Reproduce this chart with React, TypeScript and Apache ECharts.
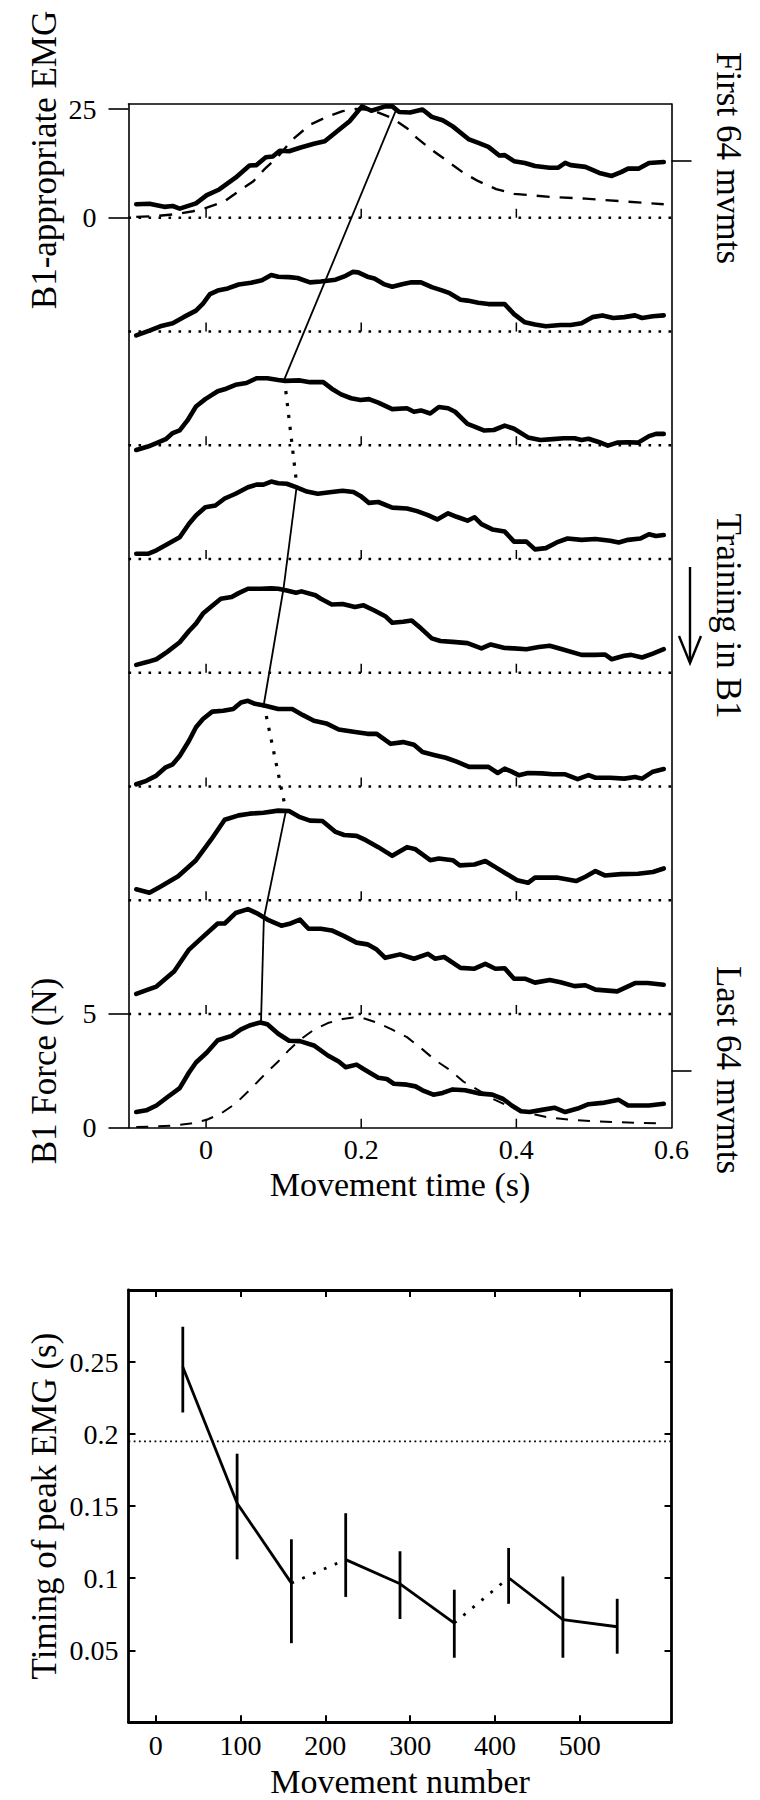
import React, { useEffect, useRef } from "react";
import * as echarts from "echarts";

const FONT = "'Liberation Serif', 'Times New Roman', Times, serif";

// ---------- Top panel data (time in s, EMG in arbitrary units, force in N) ----------
const timeTickLabels = [0, 0.2, 0.4, 0.6];
const baselineTickTimes = [0, 0.2, 0.4];
const traceBaselines = [8, 7, 6, 5, 4, 3, 2, 1, 0]; // slot index of each block (top to bottom)

const emgBlock1 = [[-0.090,3.1],[-0.073,3.2],[-0.054,2.5],[-0.043,2.7],[-0.034,2.1],[-0.013,3.3],[0.001,5.2],[0.017,6.5],[0.038,9.2],[0.056,12.0],[0.065,12.1],[0.077,13.9],[0.086,14.1],[0.095,15.4],[0.107,15.3],[0.121,16.1],[0.139,17.0],[0.153,17.6],[0.167,19.6],[0.185,22.2],[0.201,25.6],[0.213,24.6],[0.231,25.6],[0.240,25.6],[0.249,24.3],[0.263,24.2],[0.279,24.9],[0.291,23.2],[0.305,22.4],[0.318,21.0],[0.339,18.0],[0.351,17.2],[0.364,16.3],[0.378,14.3],[0.385,14.4],[0.397,13.0],[0.411,12.6],[0.424,11.9],[0.443,11.5],[0.454,11.5],[0.463,12.6],[0.470,12.1],[0.489,11.7],[0.507,10.3],[0.523,9.6],[0.535,10.5],[0.544,11.3],[0.558,11.3],[0.571,12.6],[0.590,12.8]];
const emgBlock2 = [[-0.090,-0.9],[-0.073,0.2],[-0.059,1.2],[-0.043,1.9],[-0.029,3.3],[-0.013,4.8],[-0.004,6.4],[0.005,8.6],[0.015,9.4],[0.028,9.9],[0.042,10.8],[0.058,11.2],[0.072,11.8],[0.084,13.0],[0.093,12.6],[0.107,12.5],[0.118,12.3],[0.134,11.3],[0.148,11.5],[0.167,11.9],[0.180,12.8],[0.189,13.7],[0.196,13.6],[0.208,12.6],[0.217,12.2],[0.229,10.9],[0.240,10.3],[0.254,10.9],[0.265,11.3],[0.277,11.3],[0.291,10.2],[0.305,9.4],[0.314,8.8],[0.328,7.3],[0.337,7.1],[0.351,6.6],[0.364,6.3],[0.385,6.3],[0.397,4.0],[0.411,2.1],[0.424,1.6],[0.438,1.2],[0.457,1.5],[0.470,1.5],[0.484,1.9],[0.498,3.3],[0.511,3.7],[0.525,3.1],[0.539,3.3],[0.553,3.7],[0.562,3.1],[0.576,3.5],[0.590,3.7]];
const emgBlock3 = [[-0.090,-1.1],[-0.075,-0.3],[-0.064,0.5],[-0.052,1.4],[-0.043,2.8],[-0.034,3.4],[-0.024,5.7],[-0.013,8.9],[-0.001,10.6],[0.015,12.4],[0.026,13.0],[0.038,13.9],[0.052,14.3],[0.065,15.4],[0.079,15.4],[0.093,15.0],[0.102,14.8],[0.121,14.9],[0.134,14.5],[0.151,14.5],[0.162,13.0],[0.174,11.7],[0.187,10.8],[0.199,10.4],[0.210,10.6],[0.222,9.8],[0.240,8.3],[0.259,8.5],[0.268,7.7],[0.277,8.0],[0.289,7.3],[0.300,8.8],[0.312,8.5],[0.321,7.7],[0.337,4.9],[0.346,4.3],[0.358,3.4],[0.371,3.5],[0.385,4.5],[0.397,3.8],[0.415,1.8],[0.431,1.2],[0.447,1.4],[0.461,1.6],[0.475,1.6],[0.484,1.2],[0.493,1.5],[0.507,0.7],[0.518,-0.1],[0.530,0.6],[0.544,0.7],[0.557,0.6],[0.571,2.1],[0.580,2.6],[0.590,2.6]];
const emgBlock4 = [[-0.090,1.2],[-0.075,1.2],[-0.064,2.0],[-0.050,3.4],[-0.034,5.0],[-0.022,8.1],[-0.013,10.0],[-0.001,11.9],[0.012,12.3],[0.024,13.9],[0.038,15.0],[0.054,16.5],[0.065,17.1],[0.074,17.1],[0.084,17.8],[0.093,17.4],[0.104,17.3],[0.116,16.5],[0.130,15.5],[0.144,15.0],[0.162,15.4],[0.176,15.7],[0.190,15.4],[0.199,14.5],[0.210,12.9],[0.222,13.1],[0.240,11.8],[0.259,11.6],[0.272,11.0],[0.286,10.1],[0.298,9.1],[0.312,10.5],[0.323,9.7],[0.337,8.8],[0.346,9.6],[0.355,8.0],[0.369,6.8],[0.385,6.3],[0.397,4.0],[0.413,4.0],[0.424,2.2],[0.438,2.5],[0.452,3.8],[0.466,4.7],[0.484,4.4],[0.502,4.6],[0.521,4.2],[0.532,3.8],[0.544,4.4],[0.560,4.7],[0.571,5.7],[0.580,5.3],[0.590,5.5]];
const emgBlock5 = [[-0.090,1.8],[-0.075,2.5],[-0.064,3.1],[-0.050,4.8],[-0.034,7.0],[-0.022,9.6],[-0.013,11.3],[-0.004,13.6],[0.008,15.4],[0.019,17.0],[0.033,17.4],[0.042,18.3],[0.054,19.3],[0.070,19.3],[0.084,19.4],[0.093,19.3],[0.104,18.9],[0.116,18.4],[0.123,18.7],[0.141,17.8],[0.148,17.0],[0.162,15.7],[0.176,15.8],[0.192,15.1],[0.203,15.5],[0.217,14.3],[0.231,13.0],[0.240,11.5],[0.254,11.7],[0.265,12.0],[0.277,10.2],[0.291,7.9],[0.302,7.3],[0.318,7.1],[0.337,6.8],[0.355,5.6],[0.367,6.5],[0.385,5.7],[0.397,5.6],[0.413,5.4],[0.429,5.9],[0.443,6.2],[0.459,5.4],[0.484,4.1],[0.502,4.1],[0.514,4.2],[0.523,3.1],[0.539,3.9],[0.548,4.1],[0.562,3.5],[0.576,4.4],[0.590,5.4]];
const emgBlock6 = [[-0.090,0.5],[-0.077,1.3],[-0.064,2.5],[-0.052,4.4],[-0.043,5.1],[-0.034,7.0],[-0.022,10.5],[-0.013,13.6],[-0.004,15.5],[0.008,17.2],[0.022,17.4],[0.035,17.8],[0.045,19.3],[0.054,19.7],[0.063,19.0],[0.075,18.6],[0.093,17.8],[0.111,17.8],[0.125,16.4],[0.139,15.1],[0.155,14.5],[0.171,13.1],[0.190,12.6],[0.208,12.1],[0.220,12.1],[0.238,9.8],[0.254,10.2],[0.268,9.6],[0.279,7.9],[0.295,7.2],[0.309,6.6],[0.323,5.7],[0.339,4.5],[0.364,4.5],[0.376,3.1],[0.385,4.1],[0.394,3.4],[0.403,2.6],[0.415,3.1],[0.433,3.0],[0.447,2.8],[0.463,2.8],[0.479,1.7],[0.493,2.6],[0.502,2.0],[0.521,2.0],[0.539,1.8],[0.553,2.2],[0.562,1.8],[0.576,3.4],[0.590,4.0]];
const emgBlock7 = [[-0.090,2.5],[-0.073,1.7],[-0.059,3.1],[-0.036,5.5],[-0.013,9.2],[0.006,13.8],[0.024,18.5],[0.042,19.5],[0.056,19.9],[0.074,20.1],[0.093,20.6],[0.107,20.5],[0.121,19.1],[0.134,18.3],[0.150,18.2],[0.167,15.7],[0.178,15.0],[0.194,14.8],[0.206,13.8],[0.222,12.2],[0.240,10.2],[0.259,12.2],[0.270,11.7],[0.289,9.2],[0.300,9.6],[0.318,9.2],[0.327,8.0],[0.346,8.2],[0.360,9.0],[0.373,7.6],[0.387,6.1],[0.401,4.6],[0.415,4.0],[0.424,5.2],[0.452,5.2],[0.477,4.4],[0.489,5.4],[0.502,6.7],[0.514,5.7],[0.535,6.0],[0.557,6.1],[0.576,6.5],[0.590,7.3]];
const emgBlock8 = [[-0.090,4.6],[-0.075,5.6],[-0.064,6.3],[-0.041,9.8],[-0.022,14.8],[-0.008,17.1],[0.015,20.8],[0.024,20.8],[0.038,23.2],[0.054,24.1],[0.065,23.2],[0.079,21.7],[0.097,20.3],[0.109,20.8],[0.121,21.7],[0.132,19.6],[0.148,19.6],[0.162,19.2],[0.178,17.9],[0.194,16.4],[0.208,16.0],[0.220,14.8],[0.231,12.9],[0.250,13.7],[0.268,12.7],[0.286,13.8],[0.295,12.7],[0.307,13.1],[0.328,10.6],[0.346,10.4],[0.360,11.5],[0.373,10.4],[0.385,10.5],[0.397,8.1],[0.411,8.1],[0.424,7.2],[0.443,7.8],[0.457,7.3],[0.475,6.4],[0.489,6.6],[0.502,5.6],[0.530,5.2],[0.553,7.1],[0.569,7.1],[0.590,6.7]];
const emgBlock9 = [[-0.090,3.6],[-0.077,4.0],[-0.064,5.1],[-0.050,7.0],[-0.034,9.1],[-0.022,12.7],[-0.013,15.0],[0.001,17.3],[0.015,20.1],[0.033,21.1],[0.045,22.6],[0.056,23.5],[0.070,24.2],[0.079,23.8],[0.093,21.6],[0.107,20.0],[0.121,19.9],[0.139,18.9],[0.157,16.6],[0.171,15.2],[0.180,13.9],[0.194,14.5],[0.203,13.5],[0.222,11.5],[0.233,11.2],[0.242,10.1],[0.259,9.9],[0.270,9.5],[0.279,8.6],[0.293,7.6],[0.305,8.0],[0.318,8.8],[0.334,8.6],[0.351,7.9],[0.369,7.6],[0.383,6.6],[0.394,5.1],[0.406,3.8],[0.417,3.6],[0.433,4.1],[0.449,4.6],[0.463,3.6],[0.479,4.4],[0.493,5.4],[0.511,5.7],[0.532,6.4],[0.544,5.1],[0.571,5.1],[0.590,5.5]];
const emgBlocks = [emgBlock1, emgBlock2, emgBlock3, emgBlock4, emgBlock5, emgBlock6, emgBlock7, emgBlock8, emgBlock9];

// dashed template (first block, EMG units) and dashed B1 force (last block, N)
const emgTemplateFirst = [[-0.090,0.2],[-0.063,0.4],[-0.040,0.8],[-0.017,1.5],[0.001,2.3],[0.024,3.8],[0.042,6.1],[0.061,8.4],[0.075,11.1],[0.093,14.1],[0.111,17.9],[0.134,21.4],[0.157,23.3],[0.176,24.5],[0.194,25.0],[0.213,24.8],[0.240,22.9],[0.259,20.6],[0.272,18.3],[0.291,15.6],[0.309,13.3],[0.332,10.3],[0.351,8.4],[0.374,6.6],[0.397,5.5],[0.443,4.8],[0.489,4.4],[0.535,3.8],[0.590,3.1]];
const forceLast = [[-0.090,0.03],[-0.063,0.06],[-0.040,0.10],[-0.020,0.18],[0.001,0.35],[0.019,0.62],[0.038,1.06],[0.056,1.65],[0.075,2.32],[0.093,2.91],[0.107,3.42],[0.121,3.86],[0.139,4.31],[0.157,4.60],[0.176,4.78],[0.190,4.84],[0.203,4.81],[0.222,4.60],[0.240,4.31],[0.259,3.98],[0.277,3.50],[0.295,2.98],[0.314,2.54],[0.332,2.02],[0.351,1.65],[0.369,1.28],[0.387,0.99],[0.406,0.74],[0.424,0.58],[0.443,0.44],[0.470,0.35],[0.498,0.29],[0.535,0.24],[0.590,0.18]];

// peak of each block (time, EMG) joined by the thin line
const peakTimes = [0.245, 0.155, 0.101, 0.117, 0.0998, 0.0745, 0.103, 0.0745, 0.0708];
const peakEmg = [24.8, 12.2, 15.2, 16.9, 19.3, 18.9, 20.6, 22.0, 24.2];
const linkStyles = ["solid", "solid", "dotted", "solid", "solid", "dotted", "solid", "solid"];

// left axis labels: EMG 0 / 25 on first block, force 0 / 5 N on last block
const leftLabelText = ["0", "5", "0", "25"];
const rightTickSlots = [8.5, 0.5];

// ---------- Bottom panel data ----------
const movementNumber = [32, 96, 160, 224, 288, 352, 416, 480, 544];
const peakTiming = [0.2465, 0.152, 0.0966, 0.1129, 0.0961, 0.0689, 0.1003, 0.0712, 0.0663];
const timingLow = [0.215, 0.1131, 0.0549, 0.087, 0.0717, 0.0448, 0.0822, 0.0448, 0.0476];
const timingHigh = [0.2745, 0.1864, 0.127, 0.1451, 0.1187, 0.092, 0.121, 0.1012, 0.0857];
const referenceTiming = 0.195;
const movementTicks = [0, 100, 200, 300, 400, 500];
const timingTicks = [0.05, 0.1, 0.15, 0.2, 0.25];

// scale of the stacked plot: EMG units and newtons per stacking slot
const EMG_PER_SLOT = 26.15;
const N_PER_SLOT = 5.0;

function buildOption() {
  const leftLabelPos = [0, 5 / N_PER_SLOT, 8, 8 + 25 / EMG_PER_SLOT];
  const series: any[] = [];

  // dotted baselines
  traceBaselines.forEach((b) => {
    if (b === 0) return;
    series.push({
      type: "line", xAxisIndex: 0, yAxisIndex: 0, showSymbol: false, silent: true, z: 1,
      data: [[-0.1, b], [0.6, b]],
      lineStyle: { color: "#000", width: 2.6, type: [2.6, 7.4] },
    });
  });

  // small tick marks on each baseline
  const tickData: number[][] = [];
  traceBaselines.forEach((b) => baselineTickTimes.forEach((t) => tickData.push([t, b])));
  series.push({
    type: "custom", xAxisIndex: 0, yAxisIndex: 0, silent: true, z: 2,
    data: tickData,
    renderItem: (_p: any, api: any) => {
      const c = api.coord([api.value(0), api.value(1)]);
      return {
        type: "line",
        shape: { x1: c[0], y1: c[1], x2: c[0], y2: c[1] - 9 },
        style: { stroke: "#000", lineWidth: 1.5 },
      };
    },
  });

  // dashed template on first block
  series.push({
    type: "line", xAxisIndex: 0, yAxisIndex: 0, showSymbol: false, silent: true, z: 3,
    data: emgTemplateFirst.map(([t, v]) => [t, traceBaselines[0] + v / EMG_PER_SLOT]),
    lineStyle: { color: "#000", width: 2.4, type: [13, 10] },
  });
  // dashed force on last block
  series.push({
    type: "line", xAxisIndex: 0, yAxisIndex: 0, showSymbol: false, silent: true, z: 3,
    data: forceLast.map(([t, v]) => [t, traceBaselines[8] + v / N_PER_SLOT]),
    lineStyle: { color: "#000", width: 2, type: [12, 10] },
  });

  // EMG traces
  emgBlocks.forEach((blk, k) => {
    series.push({
      type: "line", xAxisIndex: 0, yAxisIndex: 0, showSymbol: false, silent: true, z: 4,
      data: blk.map(([t, v]) => [t, traceBaselines[k] + v / EMG_PER_SLOT]),
      lineStyle: { color: "#000", width: 4.6, join: "round", cap: "round" },
    });
  });

  // peak-connecting line
  for (let i = 0; i < peakTimes.length - 1; i++) {
    const dotted = linkStyles[i] === "dotted";
    series.push({
      type: "line", xAxisIndex: 0, yAxisIndex: 0, showSymbol: false, silent: true, z: 5,
      data: [
        [peakTimes[i], traceBaselines[i] + peakEmg[i] / EMG_PER_SLOT],
        [peakTimes[i + 1], traceBaselines[i + 1] + peakEmg[i + 1] / EMG_PER_SLOT],
      ],
      lineStyle: dotted
        ? { color: "#000", width: 3.2, type: [3.2, 8.8] }
        : { color: "#000", width: 1.8 },
    });
  }

  // ---------- bottom panel ----------
  series.push({
    type: "line", xAxisIndex: 2, yAxisIndex: 2, showSymbol: false, silent: true, z: 1,
    data: [[-32, referenceTiming], [608, referenceTiming]],
    lineStyle: { color: "#000", width: 1.8, type: [1.8, 3.4] },
  });
  series.push({
    type: "custom", xAxisIndex: 2, yAxisIndex: 2, silent: true, z: 3,
    data: movementNumber.map((m, i) => [m, timingLow[i], timingHigh[i]]),
    renderItem: (_p: any, api: any) => {
      const a = api.coord([api.value(0), api.value(1)]);
      const b = api.coord([api.value(0), api.value(2)]);
      return {
        type: "line",
        shape: { x1: a[0], y1: a[1], x2: b[0], y2: b[1] },
        style: { stroke: "#000", lineWidth: 2.8 },
      };
    },
  });
  for (let i = 0; i < movementNumber.length - 1; i++) {
    const dotted = linkStyles[i] === "dotted";
    series.push({
      type: "line", xAxisIndex: 2, yAxisIndex: 2, showSymbol: false, silent: true, z: 4,
      data: [[movementNumber[i], peakTiming[i]], [movementNumber[i + 1], peakTiming[i + 1]]],
      lineStyle: dotted ? { color: "#000", width: 2.8, type: [2.8, 9] } : { color: "#000", width: 2.8 },
    });
  }

  const labelStyle = { color: "#000", fontFamily: FONT, fontSize: 28 };
  const text = (t: string, x: number, y: number, rot: number, size: number) => ({
    type: "text", x, y, rotation: rot, silent: true,
    style: {
      text: t, fill: "#000", fontFamily: FONT, fontSize: size,
      align: "center", verticalAlign: "middle", textAlign: "center", textVerticalAlign: "middle",
    },
  });

  return {
    animation: false,
    backgroundColor: "#fff",
    textStyle: { fontFamily: FONT, color: "#000" },
    grid: [
      { left: 128.5, top: 104, width: 543, height: 1023.7 },
      { left: 128.5, top: 1290, width: 543, height: 432.3 },
    ],
    xAxis: [
      {
        gridIndex: 0, type: "value", min: -0.1, max: 0.6, position: "bottom",
        axisLine: { show: true, onZero: false, lineStyle: { color: "#000", width: 1.6 } },
        axisTick: { show: false },
        axisLabel: { ...labelStyle, margin: 8, customValues: timeTickLabels, formatter: (v: number) => String(+v.toFixed(2)) },
        splitLine: { show: false },
      },
      {
        gridIndex: 0, type: "value", min: -0.1, max: 0.6, position: "top",
        axisLine: { show: true, onZero: false, lineStyle: { color: "#000", width: 1.6 } },
        axisTick: { show: false }, axisLabel: { show: false }, splitLine: { show: false },
      },
      {
        gridIndex: 1, type: "value", min: -32, max: 608, position: "bottom",
        axisLine: { show: true, onZero: false, lineStyle: { color: "#000", width: 2.8 } },
        axisTick: { show: true, inside: true, length: 7, customValues: movementTicks, lineStyle: { color: "#000", width: 2 } },
        axisLabel: { ...labelStyle, margin: 9, customValues: movementTicks },
        splitLine: { show: false },
      },
      {
        gridIndex: 1, type: "value", min: -32, max: 608, position: "top",
        axisLine: { show: true, onZero: false, lineStyle: { color: "#000", width: 2.8 } },
        axisTick: { show: true, inside: true, length: 7, customValues: movementTicks, lineStyle: { color: "#000", width: 2 } },
        axisLabel: { show: false, customValues: movementTicks }, splitLine: { show: false },
      },
    ],
    yAxis: [
      {
        gridIndex: 0, type: "value", min: 0, max: 9, position: "left",
        axisLine: { show: true, onZero: false, lineStyle: { color: "#000", width: 1.6 } },
        axisTick: { show: true, inside: false, length: 20, customValues: leftLabelPos, lineStyle: { color: "#000", width: 1.6 } },
        axisLabel: {
          ...labelStyle, margin: 32, customValues: leftLabelPos,
          formatter: (v: number) => {
            const i = leftLabelPos.findIndex((p) => Math.abs(p - v) < 1e-6);
            return i >= 0 ? leftLabelText[i] : "";
          },
        },
        splitLine: { show: false },
      },
      {
        gridIndex: 0, type: "value", min: 0, max: 9, position: "right",
        axisLine: { show: true, onZero: false, lineStyle: { color: "#000", width: 1.6 } },
        axisTick: { show: true, inside: false, length: 20, customValues: rightTickSlots, lineStyle: { color: "#000", width: 1.6 } },
        axisLabel: { show: false, customValues: rightTickSlots }, splitLine: { show: false },
      },
      {
        gridIndex: 1, type: "value", min: 0, max: 0.3, position: "left",
        axisLine: { show: true, onZero: false, lineStyle: { color: "#000", width: 2.8 } },
        axisTick: { show: true, inside: true, length: 7, customValues: timingTicks, lineStyle: { color: "#000", width: 2 } },
        axisLabel: { ...labelStyle, margin: 10, customValues: timingTicks },
        splitLine: { show: false },
      },
      {
        gridIndex: 1, type: "value", min: 0, max: 0.3, position: "right",
        axisLine: { show: true, onZero: false, lineStyle: { color: "#000", width: 2.8 } },
        axisTick: { show: true, inside: true, length: 7, customValues: timingTicks, lineStyle: { color: "#000", width: 2 } },
        axisLabel: { show: false, customValues: timingTicks }, splitLine: { show: false },
      },
    ],
    graphic: [
      text("B1-appropriate EMG", 44, 160, Math.PI / 2, 35),
      text("B1 Force (N)", 44, 1071, Math.PI / 2, 35),
      text("Movement time (s)", 400, 1184, 0, 34),
      text("First 64 mvmts", 728, 158, -Math.PI / 2, 35),
      text("Training in B1", 728, 616, -Math.PI / 2, 35),
      text("Last 64 mvmts", 728, 1070, -Math.PI / 2, 35),
      text("Timing of peak EMG (s)", 44, 1506, Math.PI / 2, 35),
      text("Movement number", 400, 1781, 0, 34),
      { type: "line", silent: true, shape: { x1: 690, y1: 567, x2: 690, y2: 662 }, style: { stroke: "#000", lineWidth: 2.4 } },
      { type: "polyline", silent: true, shape: { points: [[679, 636], [690, 663], [701, 636]] }, style: { stroke: "#000", lineWidth: 2.4, fill: null } },
    ],
    series,
  };
}

export default function App() {
  const ref = useRef<HTMLDivElement>(null);
  useEffect(() => {
    document.body.style.margin = "0";
    const chart = echarts.init(ref.current!, null, { renderer: "svg" });
    chart.setOption(buildOption() as any);
    return () => chart.dispose();
  }, []);
  return <div ref={ref} style={{ width: 760, height: 1800, position: "absolute", left: 0, top: 0 }} />;
}
